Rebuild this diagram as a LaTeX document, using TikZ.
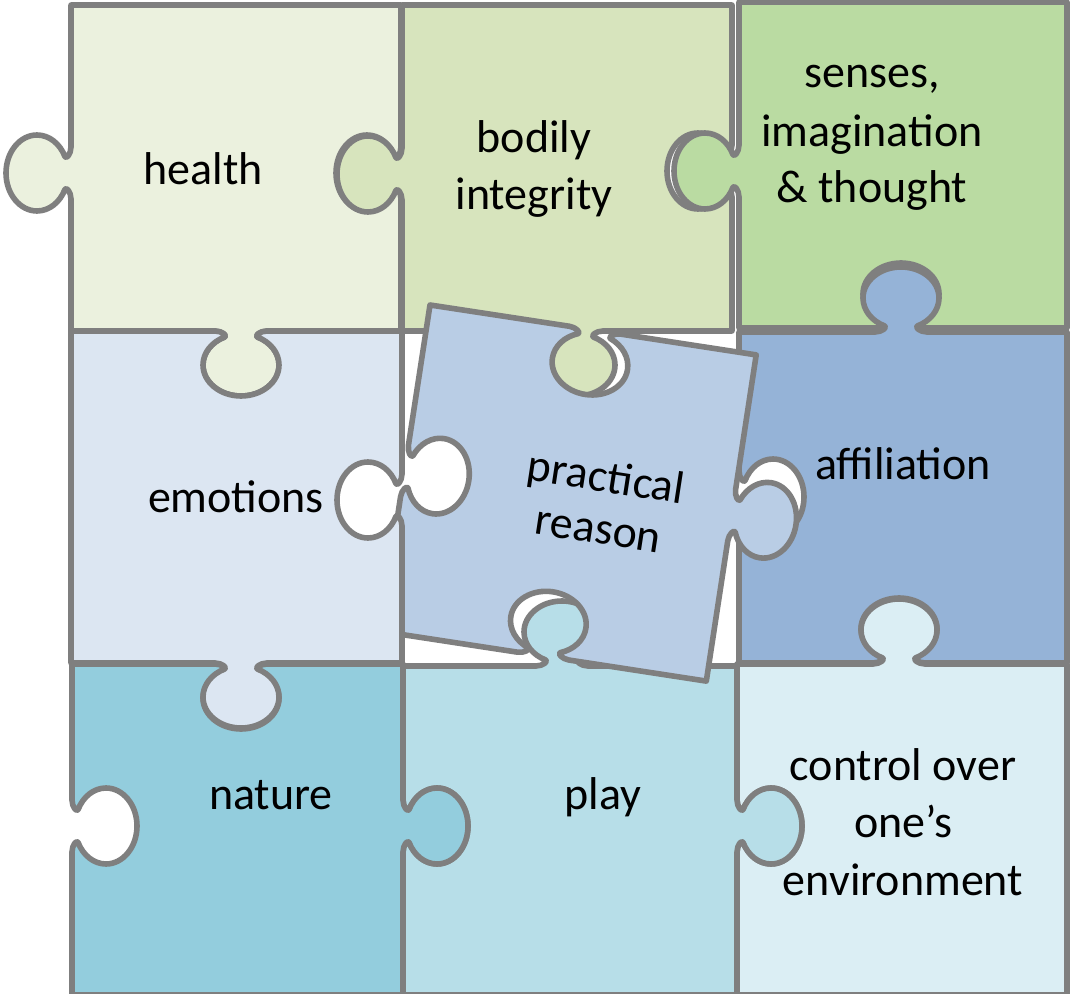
\documentclass[tikz,border=0pt]{standalone}
\usepackage{fontspec}
\setmainfont{Carlito}
\definecolor{cLine}{HTML}{7F7F7F}
\definecolor{cHealth}{HTML}{EBF1DE}
\definecolor{cBodily}{HTML}{D7E4BD}
\definecolor{cSenses}{HTML}{BADBA2}
\definecolor{cEmo}{HTML}{DCE6F2}
\definecolor{cPract}{HTML}{B9CDE5}
\definecolor{cAffil}{HTML}{95B3D7}
\definecolor{cNature}{HTML}{93CDDD}
\definecolor{cPlay}{HTML}{B7DEE8}
\definecolor{cCtrl}{HTML}{DBEEF4}
% jigsaw tab: #1,#2 point on edge; #3,#4 edge direction; #5,#6 outward normal; #7 = 1 knob, -1 hole
\newcommand\tb[7]{%
-- ({#1+(-26)*(#3)},{#2+(-26)*(#4)})
.. controls ({#1+(-19)*(#3)},{#2+(-19)*(#4)})
 and ({#1+(-13.5)*(#3)+(4.9)*(#7)*(#5)},{#2+(-13.5)*(#4)+(4.9)*(#7)*(#6)})
.. ({#1+(-16.3)*(#3)+(6)*(#7)*(#5)},{#2+(-16.3)*(#4)+(6)*(#7)*(#6)})
.. controls ({#1+(-29.5)*(#3)+(11.1)*(#7)*(#5)},{#2+(-29.5)*(#4)+(11.1)*(#7)*(#6)})
 and ({#1+(-38)*(#3)+(22)*(#7)*(#5)},{#2+(-38)*(#4)+(22)*(#7)*(#6)})
.. ({#1+(-38)*(#3)+(34)*(#7)*(#5)},{#2+(-38)*(#4)+(34)*(#7)*(#6)})
.. controls ({#1+(-38)*(#3)+(51.1)*(#7)*(#5)},{#2+(-38)*(#4)+(51.1)*(#7)*(#6)})
 and ({#1+(-21)*(#3)+(65)*(#7)*(#5)},{#2+(-21)*(#4)+(65)*(#7)*(#6)})
.. ({#1+(65)*(#7)*(#5)},{#2+(65)*(#7)*(#6)})
.. controls ({#1+(21)*(#3)+(65)*(#7)*(#5)},{#2+(21)*(#4)+(65)*(#7)*(#6)})
 and ({#1+(38)*(#3)+(51.1)*(#7)*(#5)},{#2+(38)*(#4)+(51.1)*(#7)*(#6)})
.. ({#1+(38)*(#3)+(34)*(#7)*(#5)},{#2+(38)*(#4)+(34)*(#7)*(#6)})
.. controls ({#1+(38)*(#3)+(22)*(#7)*(#5)},{#2+(38)*(#4)+(22)*(#7)*(#6)})
 and ({#1+(29.5)*(#3)+(11.1)*(#7)*(#5)},{#2+(29.5)*(#4)+(11.1)*(#7)*(#6)})
.. ({#1+(16.3)*(#3)+(6)*(#7)*(#5)},{#2+(16.3)*(#4)+(6)*(#7)*(#6)})
.. controls ({#1+(13.5)*(#3)+(4.9)*(#7)*(#5)},{#2+(13.5)*(#4)+(4.9)*(#7)*(#6)})
 and ({#1+(19)*(#3)},{#2+(19)*(#4)})
.. ({#1+(26)*(#3)},{#2+(26)*(#4)})
}
\newcommand\tT[3]{\tb{#1}{#2}{1}{0}{0}{-1}{#3}}
\newcommand\tR[3]{\tb{#1}{#2}{0}{1}{1}{0}{#3}}
\newcommand\tB[3]{\tb{#1}{#2}{-1}{0}{0}{1}{#3}}
\newcommand\tL[3]{\tb{#1}{#2}{0}{-1}{-1}{0}{#3}}
\begin{document}
\begin{tikzpicture}[x=0.5pt,y=-0.5pt,
  piece/.style={draw=cLine, line width=2.8pt, line join=round},
  lbl/.style={font=\fontsize{23}{29}\selectfont, inner sep=0pt, anchor=base, text=black}]
\useasboundingbox (0,0) rectangle (1071,994);
% health
\draw[piece, fill=cHealth] (71,5) -- (401,5) \tR{401}{173}{-1} -- (401,331) \tB{241}{331}{1} -- (71,331) \tL{71}{173}{1} -- cycle;
% bodily integrity
\draw[piece, fill=cBodily] (402,5) -- (732,5) \tR{732}{171}{-1} -- (732,331) \tB{577}{331}{1} -- (402,331) \tL{402}{174}{1} -- cycle;
% senses
\draw[piece, fill=cSenses] (739,2) -- (1067,2) -- (1067,328) \tB{901}{328}{-1} -- (739,328) \tL{739}{171}{1} -- cycle;
% affiliation
\draw[piece, fill=cAffil] (739,332) \tT{901}{332}{1} -- (1067,332) -- (1067,663) \tB{899}{663}{-1} -- (739,663) \tL{739}{497}{-1} -- cycle;
% control
\draw[piece, fill=cCtrl] (737,664) \tT{899}{664}{1} -- (1067,664) -- (1067,995) -- (737,995) \tL{737}{826}{-1} -- cycle;
% play
\draw[piece, fill=cPlay] (403,666) \tT{562}{666}{1} -- (737,666) \tR{737}{826}{1} -- (737,995) -- (403,995) \tL{403}{826}{-1} -- cycle;
% nature
\draw[piece, fill=cNature] (72,664) \tT{241}{664}{-1} -- (403,664) \tR{403}{826}{1} -- (403,995) -- (72,995) \tL{72}{826}{-1} -- cycle;
% practical reason (rotated piece)
\draw[piece, fill=cPract] (430,305) \tb{595.1}{330.2}{0.9885}{0.1513}{0.1513}{-0.9885}{-1} -- (756.2,354.9) \tb{731.7}{515.1}{-0.1513}{0.9885}{0.9885}{0.1513}{1} -- (706.3,681.1) \tb{543.2}{656.1}{-0.9885}{-0.1513}{-0.1513}{0.9885}{-1} -- (380.1,631.2) \tb{404.5}{471}{0.1513}{-0.9885}{-0.9885}{-0.1513}{-1} -- cycle;
% emotions
\draw[piece, fill=cEmo] (71,331) \tT{241}{331}{-1} -- (402,331) \tR{402}{500}{-1} -- (402,663) \tB{241}{663}{1} -- (71,663) -- cycle;
% labels
\node[lbl] (health) at (203,185) {health};
\node[lbl] (bod1) at (534,153) {bodily};
\node[lbl] (bod2) at (534,210) {integrity};
\node[lbl] (sen1) at (872,88) {senses,};
\node[lbl] (sen2) at (872,147) {imagination};
\node[lbl] (sen3) at (872,203) {\& thought};
\node[lbl] (emo) at (236,513) {emotions};
\node[font=\fontsize{23}{26}\selectfont, inner sep=0pt, align=center, rotate=-8.7, anchor=center] (pract) at (602.5,502) {practical\\reason};
\node[lbl] (aff) at (903,480) {affiliation};
\node[lbl] (nat) at (271,809) {nature};
\node[lbl] (play) at (603,809) {play};
\node[lbl] (ctl1) at (903,780) {control over};
\node[lbl] (ctl2) at (903,837) {one’s};
\node[lbl] (ctl3) at (903,895) {environment};
\end{tikzpicture}
\end{document}
